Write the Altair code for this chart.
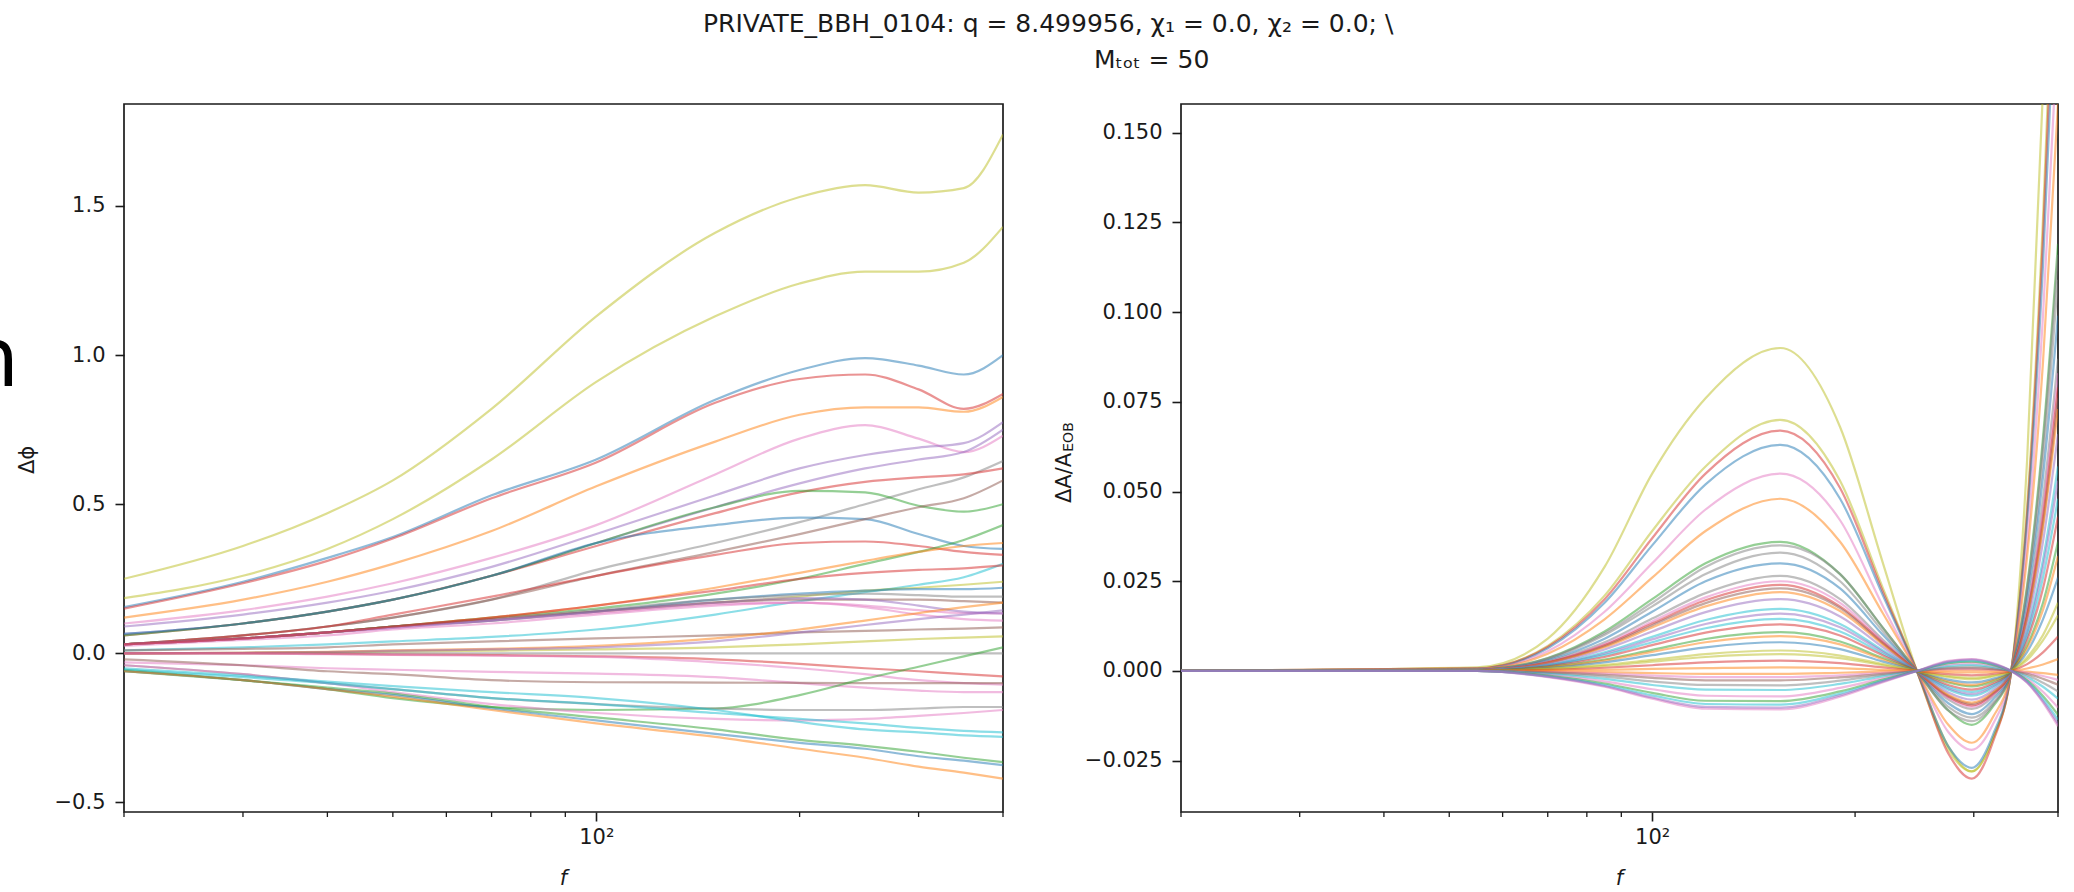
import altair as alt
import pandas as pd

# ---------------- data ----------------
TAB10_NAMES = ["blue", "orange", "green", "red", "purple", "brown", "pink", "gray", "olive", "cyan"]
TAB10_HEX = ["#1f77b4", "#ff7f0e", "#2ca02c", "#d62728", "#9467bd", "#8c564b", "#e377c2", "#7f7f7f", "#bcbd22", "#17becf"]

TITLE_LINE1 = "PRIVATE_BBH_0104: q = 8.499956, χ₁ = 0.0, χ₂ = 0.0; \\"
TITLE_LINE2 = "Mₜₒₜ = 50"

F_LEFT = [20, 30, 40, 50, 70, 100, 150, 200, 250, 300, 350, 400]
PHASE_COLORS = ["olive", "olive", "blue", "red", "orange", "pink", "purple", "purple", "gray", "red",
                "green", "blue", "brown", "red", "green", "cyan", "orange", "olive", "blue", "gray",
                "brown", "pink", "purple", "pink", "brown", "olive", "orange", "purple", "gray", "red",
                "pink", "pink", "brown", "green", "gray", "pink", "cyan", "cyan", "green", "blue",
                "orange", "red"]
PHASE_VALUES = [
    [0.25, 0.36, 0.47, 0.58, 0.82, 1.13, 1.41, 1.53, 1.57, 1.545, 1.56, 1.74],
    [0.185, 0.26, 0.35, 0.45, 0.65, 0.91, 1.13, 1.24, 1.28, 1.28, 1.31, 1.43],
    [0.155, 0.24, 0.32, 0.39, 0.53, 0.65, 0.85, 0.95, 0.99, 0.965, 0.935, 1.0],
    [0.15, 0.235, 0.31, 0.385, 0.52, 0.64, 0.84, 0.92, 0.935, 0.885, 0.82, 0.87],
    [0.12, 0.18, 0.24, 0.30, 0.41, 0.56, 0.71, 0.80, 0.825, 0.825, 0.81, 0.86],
    [0.10, 0.145, 0.19, 0.235, 0.32, 0.43, 0.60, 0.72, 0.765, 0.72, 0.675, 0.73],
    [0.09, 0.13, 0.17, 0.21, 0.29, 0.40, 0.53, 0.62, 0.665, 0.69, 0.705, 0.775],
    [0.065, 0.10, 0.14, 0.18, 0.26, 0.37, 0.49, 0.57, 0.62, 0.65, 0.675, 0.75],
    [0.03, 0.06, 0.09, 0.12, 0.18, 0.28, 0.37, 0.44, 0.50, 0.55, 0.59, 0.645],
    [0.06, 0.10, 0.14, 0.18, 0.26, 0.36, 0.47, 0.54, 0.575, 0.59, 0.60, 0.62],
    [0.06, 0.10, 0.14, 0.18, 0.26, 0.37, 0.49, 0.545, 0.54, 0.495, 0.475, 0.50],
    [0.065, 0.10, 0.14, 0.18, 0.26, 0.37, 0.43, 0.455, 0.45, 0.40, 0.36, 0.35],
    [0.03, 0.06, 0.09, 0.12, 0.18, 0.26, 0.34, 0.40, 0.45, 0.49, 0.52, 0.58],
    [0.03, 0.06, 0.09, 0.13, 0.19, 0.26, 0.33, 0.37, 0.375, 0.36, 0.34, 0.33],
    [0.03, 0.05, 0.07, 0.09, 0.12, 0.15, 0.20, 0.25, 0.30, 0.34, 0.38, 0.43],
    [0.01, 0.02, 0.03, 0.04, 0.055, 0.08, 0.13, 0.175, 0.205, 0.23, 0.255, 0.30],
    [0.03, 0.05, 0.07, 0.09, 0.12, 0.16, 0.22, 0.27, 0.31, 0.34, 0.36, 0.37],
    [0.03, 0.05, 0.07, 0.09, 0.11, 0.14, 0.17, 0.19, 0.21, 0.22, 0.23, 0.24],
    [0.03, 0.05, 0.07, 0.09, 0.11, 0.14, 0.18, 0.20, 0.21, 0.215, 0.215, 0.22],
    [0.03, 0.05, 0.07, 0.09, 0.115, 0.145, 0.18, 0.195, 0.20, 0.195, 0.19, 0.19],
    [0.03, 0.05, 0.07, 0.09, 0.115, 0.14, 0.17, 0.18, 0.18, 0.18, 0.175, 0.17],
    [0.03, 0.05, 0.07, 0.085, 0.11, 0.135, 0.165, 0.17, 0.16, 0.145, 0.135, 0.134],
    [0.03, 0.05, 0.07, 0.085, 0.11, 0.14, 0.17, 0.185, 0.18, 0.16, 0.14, 0.134],
    [0.025, 0.045, 0.06, 0.08, 0.10, 0.13, 0.16, 0.17, 0.155, 0.13, 0.115, 0.11],
    [0.01, 0.015, 0.02, 0.03, 0.04, 0.05, 0.06, 0.07, 0.075, 0.08, 0.083, 0.087],
    [0.0, 0.002, 0.004, 0.006, 0.009, 0.013, 0.02, 0.03, 0.04, 0.048, 0.053, 0.057],
    [0.0, 0.002, 0.005, 0.01, 0.015, 0.025, 0.05, 0.08, 0.11, 0.135, 0.155, 0.17],
    [0.0, 0.002, 0.004, 0.008, 0.013, 0.02, 0.04, 0.07, 0.095, 0.115, 0.13, 0.144],
    [0.0, 0.0, 0.0, 0.0, 0.0, 0.0, 0.0, 0.0, 0.0, 0.0, 0.0, 0.0],
    [0.0, 0.0, -0.002, -0.004, -0.006, -0.01, -0.02, -0.035, -0.05, -0.06, -0.07, -0.077],
    [0.0, 0.0, -0.003, -0.005, -0.008, -0.012, -0.03, -0.05, -0.07, -0.09, -0.10, -0.105],
    [-0.03, -0.04, -0.05, -0.055, -0.062, -0.068, -0.08, -0.10, -0.115, -0.125, -0.13, -0.13],
    [-0.02, -0.04, -0.06, -0.07, -0.09, -0.097, -0.098, -0.099, -0.10, -0.10, -0.10, -0.10],
    [-0.055, -0.09, -0.12, -0.15, -0.18, -0.19, -0.185, -0.14, -0.085, -0.045, -0.01, 0.02],
    [-0.04, -0.07, -0.10, -0.12, -0.15, -0.17, -0.185, -0.19, -0.19, -0.185, -0.18, -0.18],
    [-0.04, -0.07, -0.10, -0.13, -0.17, -0.20, -0.22, -0.225, -0.22, -0.21, -0.20, -0.19],
    [-0.055, -0.08, -0.10, -0.12, -0.15, -0.17, -0.20, -0.22, -0.235, -0.25, -0.26, -0.265],
    [-0.05, -0.075, -0.095, -0.11, -0.13, -0.15, -0.19, -0.23, -0.255, -0.265, -0.275, -0.28],
    [-0.06, -0.09, -0.115, -0.135, -0.18, -0.215, -0.255, -0.29, -0.31, -0.33, -0.35, -0.365],
    [-0.06, -0.09, -0.12, -0.14, -0.185, -0.225, -0.27, -0.30, -0.32, -0.345, -0.36, -0.375],
    [-0.06, -0.09, -0.12, -0.145, -0.19, -0.235, -0.28, -0.32, -0.35, -0.38, -0.40, -0.42],
    [0.03, 0.05, 0.07, 0.09, 0.12, 0.16, 0.21, 0.25, 0.27, 0.28, 0.285, 0.295],
]

F_RIGHT = [20, 55, 70, 85, 100, 120, 155, 190, 220, 247, 275, 298, 320, 341, 360, 380, 400]
AMP_COLORS = ["olive", "olive", "red", "blue", "pink", "orange", "green", "gray", "gray", "blue",
              "gray", "pink", "red", "brown", "orange", "purple", "cyan", "purple", "cyan", "red",
              "green", "orange", "blue", "olive", "olive", "red", "orange",
              "orange", "pink", "brown", "gray", "cyan", "pink", "green", "cyan", "pink", "purple"]
AMP_VALUES = [
    [0, 0.001, 0.009, 0.029, 0.055, 0.076, 0.090, 0.068, 0.030, 0, -0.022, -0.028, -0.019, 0, 0.059, 0.162, 0.30],
    [0, 0.0007, 0.007, 0.021, 0.039, 0.057, 0.070, 0.053, 0.023, 0, -0.021, -0.028, -0.019, 0, 0.046, 0.126, 0.231],
    [0, 0.0007, 0.0067, 0.020, 0.037, 0.055, 0.067, 0.051, 0.022, 0, -0.023, -0.030, -0.020, 0, 0.044, 0.121, 0.221],
    [0, 0.0006, 0.0063, 0.019, 0.035, 0.052, 0.063, 0.048, 0.021, 0, -0.021, -0.027, -0.018, 0, 0.042, 0.113, 0.208],
    [0, 0.0006, 0.0055, 0.0165, 0.030, 0.045, 0.055, 0.042, 0.018, 0, -0.017, -0.022, -0.015, 0, 0.036, 0.099, 0.18],
    [0, 0.0005, 0.0048, 0.0144, 0.026, 0.039, 0.048, 0.036, 0.016, 0, -0.015, -0.020, -0.013, 0, 0.032, 0.086, 0.158],
    [0, 0.0004, 0.0036, 0.011, 0.020, 0.030, 0.036, 0.027, 0.012, 0, -0.011, -0.015, -0.010, 0, 0.024, 0.065, 0.119],
    [0, 0.0004, 0.0035, 0.0105, 0.019, 0.029, 0.035, 0.027, 0.012, 0, -0.011, -0.014, -0.0095, 0, 0.023, 0.063, 0.116],
    [0, 0.0003, 0.0033, 0.010, 0.018, 0.027, 0.033, 0.025, 0.011, 0, -0.010, -0.013, -0.009, 0, 0.022, 0.059, 0.109],
    [0, 0.0003, 0.003, 0.009, 0.0165, 0.025, 0.030, 0.023, 0.010, 0, -0.009, -0.012, -0.008, 0, 0.020, 0.054, 0.099],
    [0, 0.0003, 0.0027, 0.008, 0.0146, 0.0217, 0.0265, 0.020, 0.0087, 0, -0.008, -0.0106, -0.0072, 0, 0.0175, 0.048, 0.087],
    [0, 0.0003, 0.0025, 0.0075, 0.0138, 0.0205, 0.025, 0.019, 0.0083, 0, -0.0075, -0.010, -0.0068, 0, 0.0165, 0.045, 0.083],
    [0, 0.0002, 0.0024, 0.0072, 0.0132, 0.0197, 0.024, 0.018, 0.0079, 0, -0.0072, -0.0096, -0.0065, 0, 0.0158, 0.043, 0.079],
    [0, 0.0002, 0.0023, 0.0069, 0.0127, 0.0189, 0.023, 0.0175, 0.0076, 0, -0.0069, -0.0092, -0.0062, 0, 0.0152, 0.041, 0.076],
    [0, 0.0002, 0.0022, 0.0066, 0.0121, 0.018, 0.022, 0.0167, 0.0073, 0, -0.0066, -0.0088, -0.0059, 0, 0.0145, 0.040, 0.073],
    [0, 0.0002, 0.002, 0.006, 0.011, 0.0164, 0.020, 0.0152, 0.0066, 0, -0.006, -0.008, -0.0054, 0, 0.0132, 0.036, 0.066],
    [0, 0.0002, 0.0017, 0.0052, 0.0095, 0.0142, 0.0173, 0.0131, 0.0057, 0, -0.0052, -0.0069, -0.0047, 0, 0.0114, 0.031, 0.057],
    [0, 0.0002, 0.0016, 0.0048, 0.0088, 0.0131, 0.016, 0.0122, 0.0053, 0, -0.0048, -0.0064, -0.0043, 0, 0.0106, 0.029, 0.053],
    [0, 0.0001, 0.0015, 0.0044, 0.008, 0.0119, 0.0145, 0.011, 0.0048, 0, -0.0044, -0.0058, -0.0039, 0, 0.0096, 0.026, 0.048],
    [0, 0.0001, 0.0013, 0.0039, 0.0072, 0.0107, 0.013, 0.0099, 0.0043, 0, -0.0039, -0.0052, -0.0035, 0, 0.0086, 0.023, 0.043],
    [0, 0.0001, 0.0011, 0.0032, 0.0059, 0.0089, 0.0108, 0.0082, 0.0036, 0, -0.0032, -0.0043, -0.0029, 0, 0.0071, 0.019, 0.036],
    [0, 0.0001, 0.001, 0.0029, 0.0053, 0.008, 0.0097, 0.0074, 0.0032, 0, -0.0029, -0.0039, -0.0026, 0, 0.0064, 0.017, 0.032],
    [0, 0.0001, 0.0008, 0.0024, 0.0044, 0.0066, 0.008, 0.0061, 0.0026, 0, -0.0024, -0.0032, -0.0022, 0, 0.0053, 0.0144, 0.026],
    [0, 0.0001, 0.0006, 0.0017, 0.0031, 0.0047, 0.0057, 0.0043, 0.0019, 0, -0.0017, -0.0023, -0.0015, 0, 0.0038, 0.010, 0.019],
    [0, 0, 0.0005, 0.0014, 0.0026, 0.0039, 0.0047, 0.0036, 0.0016, 0, -0.0014, -0.0019, -0.0013, 0, 0.0031, 0.0085, 0.0155],
    [0, 0, 0.0003, 0.0009, 0.0016, 0.0024, 0.0029, 0.0022, 0.001, 0, -0.0009, -0.0012, -0.0008, 0, 0.0019, 0.0052, 0.0096],
    [0, 0, 0.0001, 0.0003, 0.0006, 0.0008, 0.001, 0.0008, 0.0003, 0, -0.0003, -0.0004, -0.0003, 0, 0.0007, 0.0018, 0.0033],
    [0, 0, -0.0001, -0.0003, -0.0006, -0.0008, -0.0008, -0.0005, -0.0002, 0, 0.0002, 0.0002, 0.0002, 0, -0.0002, -0.0006, -0.0011],
    [0, 0, -0.0003, -0.0007, -0.0013, -0.0017, -0.0017, -0.0012, -0.0005, 0, 0.0005, 0.0005, 0.0004, 0, -0.0005, -0.0014, -0.0025],
    [0, 0, -0.0004, -0.0011, -0.0019, -0.0026, -0.0026, -0.0018, -0.0008, 0, 0.0007, 0.0008, 0.0005, 0, -0.0008, -0.0022, -0.0038],
    [0, 0, -0.0006, -0.0016, -0.0029, -0.0039, -0.004, -0.0027, -0.0011, 0, 0.001, 0.0012, 0.0008, 0, -0.0012, -0.0033, -0.0057],
    [0, 0, -0.0008, -0.0022, -0.0039, -0.0052, -0.0053, -0.0036, -0.0015, 0, 0.0014, 0.0017, 0.0011, 0, -0.0017, -0.0044, -0.0077],
    [0, 0, -0.0011, -0.0029, -0.0051, -0.0069, -0.0071, -0.0047, -0.002, 0, 0.0018, 0.0022, 0.0015, 0, -0.0022, -0.0058, -0.0102],
    [0, 0, -0.0013, -0.0035, -0.0061, -0.0083, -0.0084, -0.0057, -0.0024, 0, 0.0022, 0.0026, 0.0017, 0, -0.0026, -0.007, -0.0122],
    [0, 0, -0.0015, -0.0039, -0.0068, -0.0092, -0.0094, -0.0063, -0.0027, 0, 0.0024, 0.0029, 0.0019, 0, -0.0029, -0.0078, -0.0136],
    [0, 0, -0.0017, -0.0044, -0.0077, -0.0105, -0.0107, -0.0072, -0.0031, 0, 0.0028, 0.0033, 0.0022, 0, -0.0033, -0.0088, -0.0154],
    [0, 0, -0.0016, -0.0042, -0.0074, -0.010, -0.0102, -0.0068, -0.0029, 0, 0.0026, 0.0032, 0.0021, 0, -0.0032, -0.0084, -0.0147],
]

MINOR_TICKS = [20, 30, 40, 50, 60, 70, 80, 90, 200, 300, 400]
PHASE_TICKS = [-0.5, 0.0, 0.5, 1.0, 1.5]
AMP_TICKS = [-0.025, 0.0, 0.025, 0.05, 0.075, 0.1, 0.125, 0.15]

# ---------------- layout constants ----------------
W_L, W_R, H = 879, 877, 708
FONT = "DejaVu Sans"
INK = "#1a1a1a"


def long_table(freqs, colors, values):
    rows = []
    for i, (c, vals) in enumerate(zip(colors, values)):
        for f, v in zip(freqs, vals):
            rows.append({"f": f, "v": v, "id": i, "c": c})
    return pd.DataFrame(rows)


def label(text, x, y, size, angle=0, style="normal", align="center", baseline="middle", color=INK):
    return alt.Chart(pd.DataFrame({"t": [text]})).mark_text(
        font=FONT, fontSize=size, angle=angle, fontStyle=style, align=align,
        baseline=baseline, color=color,
    ).encode(text="t:N", x=alt.value(x), y=alt.value(y))


color_scale = alt.Scale(domain=TAB10_NAMES, range=TAB10_HEX)
x_scale = alt.Scale(type="log", domain=[20, 400], nice=False)


def panel(df, ydomain, yticks, yfmt, width):
    xax = alt.Axis(values=[100], labelExpr="'10²'", tickSize=9, labelPadding=5, title=None,
                   grid=False, domain=False)
    yax = alt.Axis(values=yticks, labelExpr=f"replace(format(datum.value, '{yfmt}'), '-', '\u2212')",
                   tickSize=9, labelPadding=10, title=None, grid=False, domain=False)
    lines = alt.Chart(df).mark_line(interpolate="monotone", strokeWidth=2.2, opacity=0.5, clip=True).encode(
        x=alt.X("f:Q", scale=x_scale, axis=xax),
        y=alt.Y("v:Q", scale=alt.Scale(domain=ydomain, nice=False, zero=False), axis=yax),
        color=alt.Color("c:N", scale=color_scale, legend=None),
        detail="id:N",
    )
    minor = alt.Chart(pd.DataFrame({"f": MINOR_TICKS})).mark_rule(color=INK, strokeWidth=1.3).encode(
        x=alt.X("f:Q", scale=x_scale), y=alt.value(H), y2=alt.value(H + 5)
    )
    return lines, minor


phase_df = long_table(F_LEFT, PHASE_COLORS, PHASE_VALUES)
amp_df = long_table(F_RIGHT, AMP_COLORS, AMP_VALUES)

l_lines, l_minor = panel(phase_df, [-0.532, 1.842], PHASE_TICKS, ".1f", W_L)
r_lines, r_minor = panel(amp_df, [-0.0393, 0.158], AMP_TICKS, ".3f", W_R)

left = alt.layer(
    l_lines, l_minor,
    label("Δϕ", -96, 356, 21, angle=270),
    label("f", W_L / 2, 775, 21, style="italic"),
    label(TITLE_LINE1, 579, -80, 25, align="left"),
    label(TITLE_LINE2, 970, -44, 25, align="left"),
    label("n", -157, 282, 82, align="left", baseline="alphabetic", color="#000"),
).properties(width=W_L, height=H)

right = alt.layer(
    r_lines, r_minor,
    label("ΔA/A", -116, 374, 21, angle=270),
    label("EOB", -112, 333, 14, angle=270),
    label("f", W_R / 2, 775, 21, style="italic"),
).properties(width=W_R, height=H)

chart = alt.hconcat(left, right, spacing=178, bounds="flush").resolve_scale(
    color="shared"
).properties(
    autosize=alt.AutoSizeParams(type="none"),
    padding={"left": 124, "top": 104, "right": 1950, "bottom": 788},
    background="white",
).configure_view(
    stroke=INK, strokeWidth=1.7
).configure_axis(
    labelFont=FONT, labelFontSize=21, labelColor=INK, tickColor=INK, tickWidth=1.6,
)

chart.save("out.html", embed_options={"renderer": "svg", "actions": False})
